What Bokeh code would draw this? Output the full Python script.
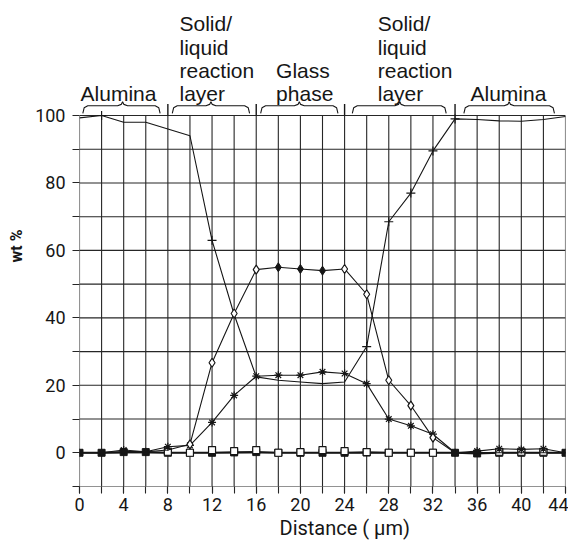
from bokeh.plotting import figure
from bokeh.models import Range1d, FixedTicker, Title
from bokeh.core.properties import value
from bokeh.embed import file_html
from bokeh.resources import INLINE

# ---------------- data ----------------
distance = [0, 2, 4, 6, 8, 10, 12, 14, 16, 18, 20, 22, 24, 26, 28, 30, 32, 34, 36, 38, 40, 42, 44]
alumina = [99.3, 100, 98, 98, 96, 94, 63, 41, 22.5, 21.5, 21, 20.5, 21, 31.5, 68.5, 77, 89.5, 99, 98.8, 98.4, 98.3, 98.8, 99.7]
series_diamond = [0, 0, 0, 0.3, 0.8, 2.5, 26.7, 41.3, 54.3, 55, 54.5, 54, 54.5, 47, 21.5, 14, 4.5, 0, 0, 0, 0, 0, 0]
series_star = [0, 0, 0.8, 0.3, 1.8, 2.2, 9, 17, 22.7, 23, 23, 24, 23.5, 20.5, 10, 8, 5.5, 0, 0.5, 1.2, 1, 1.2, 0]
series_fsq = [0, 0, 0.2, 0.2, 0, 0, 0, 0.1, 0.2, 0, 0, 0, 0, 0.1, 0, 0, 0, 0, -0.2, 0, 0, 0, 0]
osq_x = [8, 10, 12, 14, 16, 18, 20, 22, 24, 26, 28, 30, 32, 38, 40, 42]
osq_y = [0.3, 0, 0.8, 0.5, 0.8, 0, 0.2, 0.8, 0.5, 0.2, 0, 0, 0, 0.3, 0.3, 0.3]

alumina_plus_idx = [1, 6, 13, 14, 15, 16, 17]
diamond_open_idx = [5, 6, 7, 8, 12, 13, 14, 15, 16]
diamond_filled_idx = [9, 10, 11]

x_ticks = list(range(0, 45, 4))
x_minor = list(range(0, 45, 2))
y_ticks = [0, 20, 40, 60, 80, 100]
y_minor = [-10, 10, 30, 50, 70, 90]

# zones along the profile: (start, end, label lines)
zones = [
    (0, 8, ["Alumina"]),
    (8, 16, ["Solid/", "liquid", "reaction", "layer"]),
    (16, 24, ["Glass", "phase"]),
    (24, 34, ["Solid/", "liquid", "reaction", "layer"]),
    (34, 44, ["Alumina"]),
]
zone_text_x = [0.1, 9.05, 17.8, 27.0, 35.4]
zone_brace = [(0.3, 7.3, 3.9), (8.4, 15.4, 11.9), (16.4, 23.4, 19.9), (24.7, 33.2, 29.0), (34.8, 43.0, 38.9)]
zone_separators = [8, 16, 24, 34]

# ---------------- figure ----------------
INK = "#161616"
GRID = "#262626"
TICKFONT = "Roboto"
HEAD = "Liberation Sans"

Y_TOP = 132.62
p = figure(width=568, height=543, output_backend="svg", toolbar_location=None,
           x_range=Range1d(0, 44), y_range=Range1d(-10, Y_TOP),
           min_border_left=79, min_border_right=3, min_border_top=5, min_border_bottom=57)
p.outline_line_color = None
p.background_fill_color = "white"
p.xgrid.visible = False
p.ygrid.visible = False

# axes
p.xaxis.ticker = FixedTicker(ticks=x_ticks, minor_ticks=x_minor)
p.yaxis.ticker = FixedTicker(ticks=y_ticks, minor_ticks=y_minor)
p.xaxis.bounds = (0, 44)
p.yaxis.bounds = (-10, 100)
for ax in (p.xaxis, p.yaxis):
    ax.axis_line_color = None
    ax.major_tick_in = 0
    ax.minor_tick_in = 0
    ax.major_tick_out = 7
    ax.minor_tick_out = 7
    ax.major_tick_line_color = GRID
    ax.minor_tick_line_color = GRID
    ax.major_tick_line_width = 1.1
    ax.minor_tick_line_width = 1.1
    ax.major_label_text_font = TICKFONT
    ax.major_label_text_font_size = "18px"
    ax.major_label_text_color = INK
    ax.axis_label_text_font = TICKFONT
    ax.axis_label_text_color = INK
p.xaxis.major_label_standoff = 4
p.yaxis.major_label_standoff = 7
p.yaxis.axis_label = "wt %"
p.yaxis.axis_label_text_font_size = "16px"
p.yaxis.axis_label_text_font_style = "bold"
p.yaxis.axis_label_standoff = 6

# x axis title below the tick labels
p.add_layout(Title(text="Distance ( µm)", align="left", offset=200, standoff=0,
                   text_font=TICKFONT, text_font_size="20px", text_font_style="normal",
                   text_color=INK), "below")

# grid lines (only inside the -10..100 / 0..44 box)
p.segment(x0=x_minor, y0=[-10] * len(x_minor), x1=x_minor, y1=[100] * len(x_minor),
          line_color=GRID, line_width=1.1)
hy = sorted(y_ticks + y_minor)
p.segment(x0=[0] * len(hy), y0=hy, x1=[44] * len(hy), y1=hy, line_color=GRID, line_width=1.1)

# ---------------- series ----------------
LW = 1.1
p.line(distance, series_fsq, line_color=INK, line_width=2.2)
p.scatter(distance, series_fsq, marker="square", size=7, fill_color=INK, line_color=INK)
p.scatter(osq_x, osq_y, marker="square", size=7, fill_color="white", line_color=INK, line_width=1.2)

p.line(distance, alumina, line_color=INK, line_width=LW)
p.scatter([distance[i] for i in alumina_plus_idx], [alumina[i] for i in alumina_plus_idx],
          marker="cross", size=9, line_color=INK, line_width=1.2)

p.line(distance, series_star, line_color=INK, line_width=LW)
p.scatter(distance, series_star, marker="asterisk", size=8, line_color=INK, line_width=1.2)

p.line(distance, series_diamond, line_color=INK, line_width=LW)
p.scatter([distance[i] for i in diamond_open_idx], [series_diamond[i] for i in diamond_open_idx],
          marker="diamond", size=9, fill_color="white", line_color=INK, line_width=1.2)
p.scatter([distance[i] for i in diamond_filled_idx], [series_diamond[i] for i in diamond_filled_idx],
          marker="diamond", size=9, fill_color=INK, line_color=INK)

# ---------------- zone header ----------------
p.segment(x0=zone_separators, y0=[100] * len(zone_separators), x1=zone_separators,
          y1=[103.4] * len(zone_separators), line_color=INK, line_width=1.4)

bx, by = [], []
for (a, b, m) in zone_brace:
    xs = [a, a + 0.12, a + 0.45, m - 0.45, m - 0.12, m, m + 0.12, m + 0.45, b - 0.45, b - 0.12, b]
    ys = [100.6, 102.3, 102.9, 102.9, 103.3, 104.1, 103.3, 102.9, 102.9, 102.3, 100.6]
    bx.append(xs)
    by.append(ys)
p.multi_line(bx, by, line_color=INK, line_width=1.1)

baselines = [106.67, 113.49, 120.31, 127.28]
tx, ty, tt = [], [], []
for (zs, ze, lines), x0 in zip(zones, zone_text_x):
    n = len(lines)
    for k, ln in enumerate(lines):
        tx.append(x0)
        ty.append(baselines[n - 1 - k])
        tt.append(ln)
p.text(x=tx, y=ty, text=tt, text_font=value(HEAD), text_font_size="21px",
       text_align="left", text_baseline="alphabetic", text_color=INK)

open("out.html", "w").write(file_html(p, INLINE))
